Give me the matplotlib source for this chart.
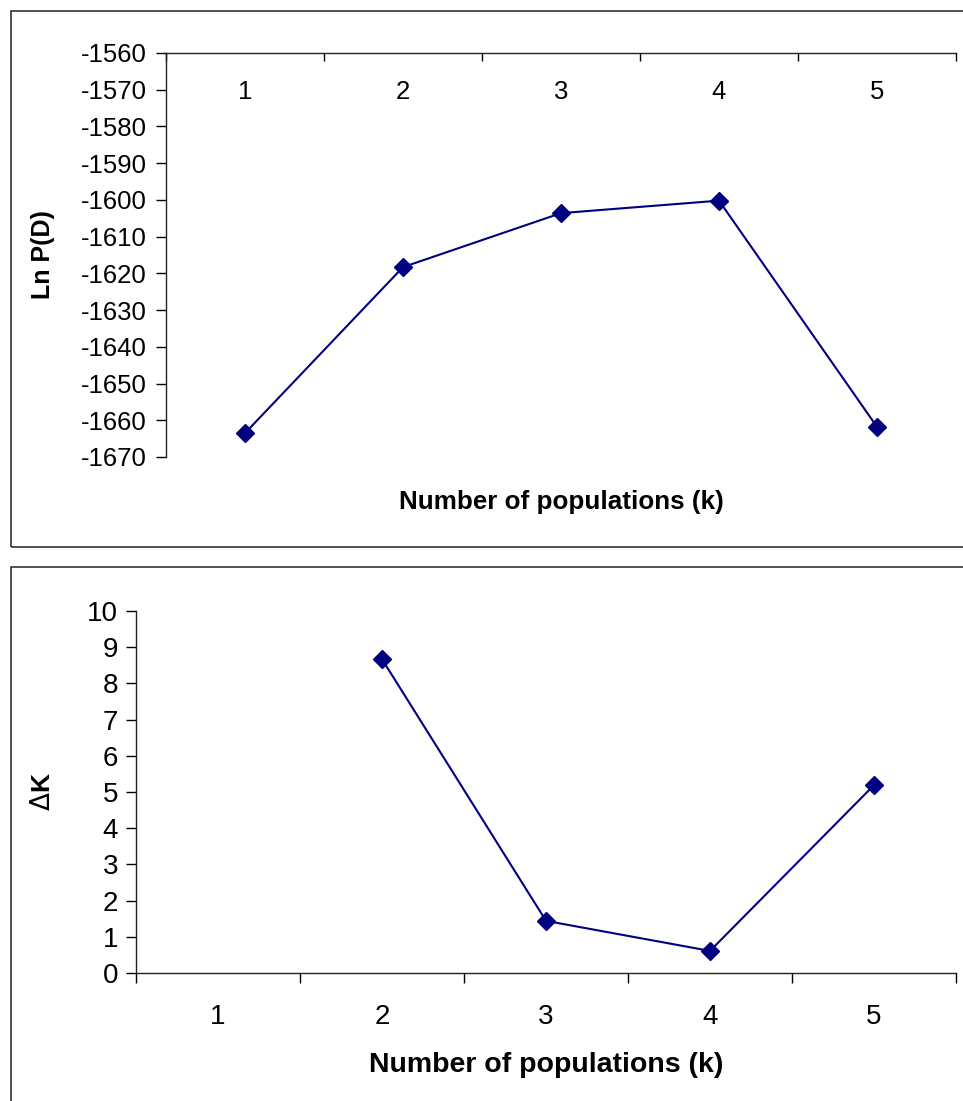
import numpy as np
import matplotlib
matplotlib.use('Agg')
import matplotlib.pyplot as plt
from matplotlib.patches import Rectangle

plt.rc('font', family='Liberation Sans')
plt.rc('axes', unicode_minus=False)

k_values = [1, 2, 3, 4, 5]
ln_pd = [-1663.5, -1618.3, -1603.6, -1600.2, -1661.8]
delta_k_k = [2, 3, 4, 5]
delta_k = [8.67, 1.44, 0.61, 5.19]

line_color = '#000080'
W, H = 963, 1101

fig = plt.figure(figsize=(W / 100, H / 100), dpi=100)

# chart frames, Excel style
fig.add_artist(Rectangle((11 / W, 1 - 547 / H), 1.2, (547 - 11) / H, transform=fig.transFigure,
                         fill=False, ec='#222222', lw=1.1))
fig.add_artist(Rectangle((11 / W, -0.2), 1.2, 0.2 + 1 - 567 / H, transform=fig.transFigure,
                         fill=False, ec='#222222', lw=1.1))

# top: Ln P(D)
ax1 = fig.add_axes([166 / W, 1 - 457 / H, 790 / W, 404 / H])
ax1.plot(k_values, ln_pd, color=line_color, lw=1.5, marker='D', ms=9)
ax1.set_xlim(0.5, 5.5)
ax1.set_ylim(-1670, -1560)
ax1.set_yticks(np.arange(-1670, -1559, 10))
ax1.spines['right'].set_visible(False)
ax1.spines['bottom'].set_visible(False)
ax1.xaxis.set_ticks_position('top')
ax1.set_xticks(np.arange(0.5, 5.6, 1))
ax1.set_xticklabels([])
ax1.set_xticks(k_values, minor=True)
ax1.set_xticklabels([str(k) for k in k_values], minor=True)
ax1.tick_params(axis='x', which='major', direction='in', length=6, width=1)
ax1.tick_params(axis='x', which='minor', length=0, pad=-37, labelsize=18.5)
ax1.tick_params(axis='y', direction='out', length=7, width=1, pad=7, labelsize=18.5)
ax1.set_ylabel('Ln P(D)', fontsize=18, fontweight='bold')
ax1.yaxis.set_label_coords(-0.1405, 0.5)
ax1.set_xlabel('Number of populations (k)', fontsize=18.7, fontweight='bold')
ax1.xaxis.set_label_position('bottom')
ax1.xaxis.set_label_coords(0.5, -0.111)
ax1.xaxis.label.set_va('center')

# bottom: delta K
ax2 = fig.add_axes([136 / W, 1 - 973 / H, 820 / W, 362 / H])
ax2.plot(delta_k_k, delta_k, color=line_color, lw=1.5, marker='D', ms=9)
ax2.set_xlim(0.5, 5.5)
ax2.set_ylim(0, 10)
ax2.set_yticks(range(0, 11))
ax2.spines['right'].set_visible(False)
ax2.spines['top'].set_visible(False)
ax2.set_xticks(np.arange(0.5, 5.6, 1))
ax2.set_xticklabels([])
ax2.set_xticks(k_values, minor=True)
ax2.set_xticklabels([str(k) for k in k_values], minor=True)
ax2.tick_params(axis='x', which='major', direction='out', length=7, width=1)
ax2.tick_params(axis='x', which='minor', length=0, pad=22, labelsize=20)
ax2.tick_params(axis='y', direction='out', length=7, width=1, pad=6, labelsize=20)
ax2.set_ylabel(r'$\Delta$K', fontsize=19, fontweight='bold')
ax2.yaxis.set_label_coords(-0.0988, 0.5)
ax2.set_xlabel('Number of populations (k)', fontsize=20.5, fontweight='bold')
ax2.xaxis.set_label_coords(0.5, -0.253)
ax2.xaxis.label.set_va('center')

for ax in (ax1, ax2):
    for s in ax.spines.values():
        s.set_linewidth(1)
        s.set_color('#222222')

fig.savefig('out.png', dpi=100)
